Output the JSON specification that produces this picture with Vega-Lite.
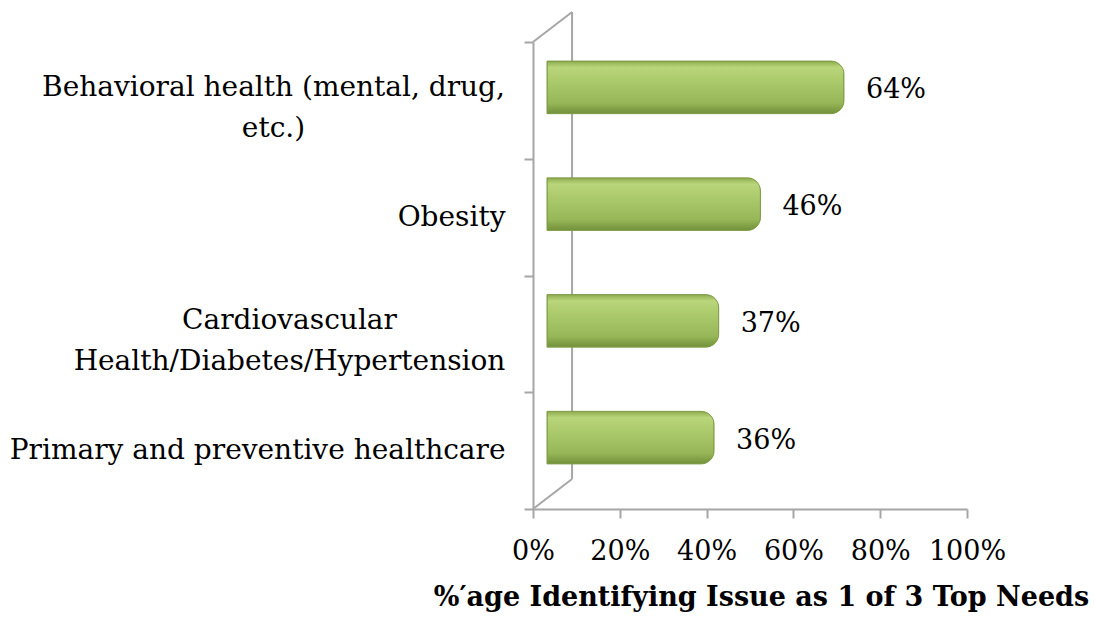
{
  "$schema": "https://vega.github.io/schema/vega-lite/v6.json",
  "width": 434,
  "height": 467,
  "autosize": {"type": "none"},
  "padding": {"left": 533, "top": 42, "right": 127, "bottom": 111},
  "background": "white",
  "config": {"view": {"stroke": null}},
  "layer": [
    {
      "data": {"values": [{}]},
      "layer": [
        {
          "mark": {"type": "rule", "color": "#a6a6a6", "strokeWidth": 2, "clip": false},
          "encoding": {
            "x": {"datum": 0.09, "type": "quantitative",
              "scale": {"domain": [0, 1], "nice": false},
              "axis": {
                "orient": "bottom",
                "values": [0, 0.2, 0.4, 0.6, 0.8, 1],
                "format": ".0%",
                "grid": false,
                "labelOverlap": false,
                "labelFlush": false,
                "domainColor": "#a6a6a6", "domainWidth": 2,
                "tickColor": "#a6a6a6", "tickWidth": 2, "tickSize": 9,
                "labelFont": "DejaVu Serif", "labelFontSize": 27, "labelColor": "#000000",
                "labelPadding": 20,
                "title": "%\u2032age Identifying Issue as 1 of 3 Top Needs",
                "titleFont": "DejaVu Serif", "titleFontSize": 27, "titleFontWeight": "bold",
                "titleColor": "#000000", "titlePadding": 20, "titleX": 228
              }
            },
            "y": {"datum": 0.0642, "type": "quantitative", "scale": {"domain": [0, 1], "nice": false}, "axis": null},
            "y2": {"datum": 1.0642}
          }
        },
        {
          "mark": {"type": "rule", "color": "#a6a6a6", "strokeWidth": 2, "clip": false},
          "encoding": {
            "x": {"datum": 0, "type": "quantitative"},
            "x2": {"datum": 0.09},
            "y": {"datum": 0, "type": "quantitative"},
            "y2": {"datum": 0.0642}
          }
        },
        {
          "mark": {"type": "rule", "color": "#a6a6a6", "strokeWidth": 2, "clip": false},
          "encoding": {
            "x": {"datum": 0, "type": "quantitative"},
            "x2": {"datum": 0.09},
            "y": {"datum": 1, "type": "quantitative"},
            "y2": {"datum": 1.0642}
          }
        }
      ]
    },
    {
      "data": {
        "values": [
          {"issue": "Behavioral health (mental, drug, etc.)", "pct": 0.64},
          {"issue": "Obesity", "pct": 0.46},
          {"issue": "Cardiovascular Health/Diabetes/Hypertension", "pct": 0.37},
          {"issue": "Primary and preventive healthcare", "pct": 0.36}
        ]
      },
      "encoding": {
        "y": {
          "field": "issue", "type": "nominal",
          "sort": ["Behavioral health (mental, drug, etc.)", "Obesity", "Cardiovascular Health/Diabetes/Hypertension", "Primary and preventive healthcare"],
          "scale": {"paddingInner": 0, "paddingOuter": 0},
          "axis": {
            "orient": "left",
            "title": null,
            "domainColor": "#a6a6a6", "domainWidth": 2,
            "tickColor": "#a6a6a6", "tickWidth": 2, "tickSize": 9,
            "tickBand": "extent",
            "labelFont": "DejaVu Serif", "labelFontSize": 28, "labelColor": "#000000",
            "labelLineHeight": 41,
            "labelLimit": 600,
            "labelBaseline": "middle",
            "labelExpr": "datum.value == 'Behavioral health (mental, drug, etc.)' ? ['Behavioral health (mental, drug,', 'etc.)'] : datum.value == 'Cardiovascular Health/Diabetes/Hypertension' ? ['Cardiovascular', 'Health/Diabetes/Hypertension'] : datum.value",
            "labelAlign": {"condition": {"test": "datum.value == 'Obesity' || datum.value == 'Primary and preventive healthcare'", "value": "right"}, "value": "center"},
            "labelPadding": {"condition": [
              {"test": "datum.value == 'Obesity' || datum.value == 'Primary and preventive healthcare'", "value": 19},
              {"test": "datum.value == 'Behavioral health (mental, drug, etc.)'", "value": 251}
            ], "value": 235},
            "labelOffset": {"condition": {"test": "datum.value == 'Obesity' || datum.value == 'Primary and preventive healthcare'", "value": 0}, "value": -13}
          }
        },
        "x": {
          "field": "pct", "type": "quantitative",
          "scale": {"domain": [0, 1], "nice": false, "range": [14, 478]},
          "axis": null
        }
      },
      "layer": [
        {
          "mark": {
            "type": "bar",
            "height": {"band": 0.45},
            "yOffset": -13,
            "cornerRadiusTopRight": 13,
            "cornerRadiusBottomRight": 13,
            "stroke": "#7f9c45",
            "strokeWidth": 1,
            "color": {
              "gradient": "linear", "x1": 0, "y1": 0, "x2": 0, "y2": 1,
              "stops": [
                {"offset": 0, "color": "#8eab50"},
                {"offset": 0.12, "color": "#b9d67a"},
                {"offset": 0.4, "color": "#aac96a"},
                {"offset": 0.8, "color": "#96b657"},
                {"offset": 1, "color": "#72903a"}
              ]
            }
          }
        },
        {
          "mark": {"type": "text", "align": "left", "baseline": "middle", "dx": 22, "dy": -10,
            "font": "DejaVu Serif", "fontSize": 27, "color": "#000000"},
          "encoding": {"text": {"field": "pct", "type": "quantitative", "format": ".0%"}}
        }
      ]
    }
  ],
  "resolve": {"scale": {"x": "independent", "y": "independent"}}
}
